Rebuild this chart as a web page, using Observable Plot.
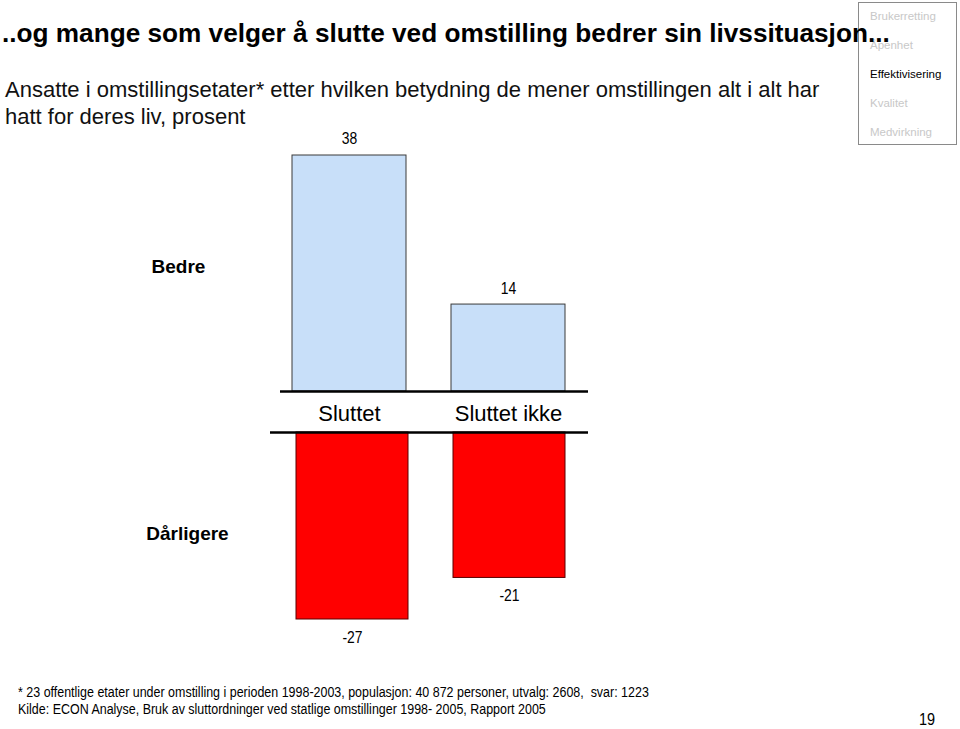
<!DOCTYPE html>
<html>
<head>
<meta charset="utf-8">
<script src="https://cdn.jsdelivr.net/npm/d3@7"></script>
<script src="https://cdn.jsdelivr.net/npm/@observablehq/plot@0.6"></script>
<style>
  html, body { margin: 0; padding: 0; background: #fff; }
  #page { position: relative; width: 960px; height: 729px; overflow: hidden; font-family: "Liberation Sans", Arial, sans-serif; }
  .abs { position: absolute; white-space: nowrap; }
  #title { left: 2px; top: 18px; font-size: 26.2px; line-height: normal; font-weight: bold; color: #000; z-index: 5; }
  #subtitle { left: 5px; top: 76px; font-size: 22px; line-height: 27px; color: #111; }
  #nav { left: 858px; top: 2px; width: 99px; height: 143px; border: 1px solid #8a8a8a; box-sizing: border-box; background: #fff; z-index: 1; }
  .navitem { position: absolute; left: 11px; font-size: 11.5px; color: #c8c8c8; }
  .navitem.active { color: #000; }
  .foot { left: 18px; font-size: 14px; line-height: 16px; color: #000; transform: scaleX(0.89); transform-origin: 0 0; }
  #pnum { left: 919px; top: 712px; font-size: 17px; line-height: 16px; transform: scaleX(0.85); transform-origin: 0 0; }
  #top, #bottom { position: absolute; left: 0; }
  #top { top: 120px; z-index: 2; }
  #bottom { top: 420px; z-index: 2; }
</style>
</head>
<body>
<div id="page">
  <div id="nav" class="abs">
    <div class="navitem" style="top:7px">Brukerretting</div>
    <div class="navitem" style="top:36px">Åpenhet</div>
    <div class="navitem active" style="top:65px">Effektivisering</div>
    <div class="navitem" style="top:94px">Kvalitet</div>
    <div class="navitem" style="top:123px">Medvirkning</div>
  </div>
  <div id="title" class="abs">..og mange som velger å slutte ved omstilling bedrer sin livssituasjon...</div>
  <div id="subtitle" class="abs">Ansatte i omstillingsetater* etter hvilken betydning de mener omstillingen alt i alt har<br>hatt for deres liv, prosent</div>
  <div id="top"></div>
  <div id="bottom"></div>
  <div class="abs foot" style="top:684px">* 23 offentlige etater under omstilling i perioden 1998-2003, populasjon: 40 872 personer, utvalg: 2608,&nbsp; svar: 1223</div>
  <div class="abs foot" style="top:701px">Kilde: ECON Analyse, Bruk av sluttordninger ved statlige omstillinger 1998- 2005, Rapport 2005</div>
  <div id="pnum" class="abs">19</div>
</div>
<script>
const categories = ["Sluttet", "Sluttet ikke"];
const bedre = [38, 14];
const darligere = [-27, -21];
const panelLabels = ["Bedre", "Dårligere"];

const labelFont = "'Liberation Sans', Arial, sans-serif";
const narrowTag = "'Liberation Sans', Arial, sans-serif, narrow";

const topData = categories.map((c, i) => ({category: c, value: bedre[i]}));
const bottomData = categories.map((c, i) => ({category: c, value: darligere[i]}));

// condense value labels horizontally (mimics Arial Narrow)
function condense(svg, s) {
  svg.querySelectorAll("g[aria-label='text']").forEach(g => {
    if ((g.getAttribute("font-family") || "").indexOf("narrow") < 0) return;
    g.querySelectorAll("text").forEach(t => {
      const tr = t.getAttribute("transform") || "";
      if (t.hasAttribute("x")) {
        const x = +t.getAttribute("x");
        t.setAttribute("transform", `${tr} translate(${x},0) scale(${s},1) translate(${-x},0)`);
      } else {
        t.setAttribute("transform", `${tr} scale(${s},1)`);
      }
    });
  });
}

const topPlot = Plot.plot({
  width: 960,
  height: 305,
  marginLeft: 280,
  marginRight: 372,
  marginTop: 35,
  marginBottom: 34,
  style: {fontFamily: labelFont, background: "transparent", overflow: "visible"},
  x: {domain: categories, paddingInner: 0.283, paddingOuter: 0.11, align: 0.343},
  y: {domain: [0, 38], axis: null},
  marks: [
    Plot.barY(topData, {x: "category", y: "value", fill: "#c8dff9", stroke: "#3a3a3a", strokeWidth: 1}),
    Plot.ruleY([0], {stroke: "#000", strokeWidth: 2.5}),
    Plot.text(topData, {x: "category", y: "value", text: d => String(d.value), dy: -16.5, fontSize: 17, fontFamily: narrowTag, fill: "#000"}),
    Plot.axisX({tickSize: 0, tickPadding: 14, fontSize: 22, label: null, color: "#000"}),
    Plot.text([panelLabels[0]], {frameAnchor: "left", dx: -102, dy: -7, textAnchor: "middle", fontSize: 19, fontWeight: "bold", fill: "#000"})
  ]
});
condense(topPlot, 0.82);
document.getElementById("top").appendChild(topPlot);

const bottomPlot = Plot.plot({
  width: 960,
  height: 240,
  marginLeft: 270,
  marginRight: 372,
  marginTop: 12,
  marginBottom: 41,
  style: {fontFamily: labelFont, background: "transparent", overflow: "visible"},
  x: {domain: categories, paddingInner: 0.285, paddingOuter: 0.149, align: 0.53, axis: null},
  y: {domain: [-27, 0], axis: null},
  marks: [
    Plot.barY(bottomData, {x: "category", y: "value", fill: "#ff0000", stroke: "#5a0000", strokeWidth: 1}),
    Plot.ruleY([0], {stroke: "#000", strokeWidth: 2.5}),
    Plot.text(bottomData, {x: "category", y: "value", text: d => String(d.value), dy: 18, fontSize: 17, fontFamily: narrowTag, fill: "#000"}),
    Plot.text([panelLabels[1]], {frameAnchor: "left", dx: -83, dy: 7.5, textAnchor: "middle", fontSize: 19, fontWeight: "bold", fill: "#000"})
  ]
});
condense(bottomPlot, 0.82);
document.getElementById("bottom").appendChild(bottomPlot);
</script>
</body>
</html>
